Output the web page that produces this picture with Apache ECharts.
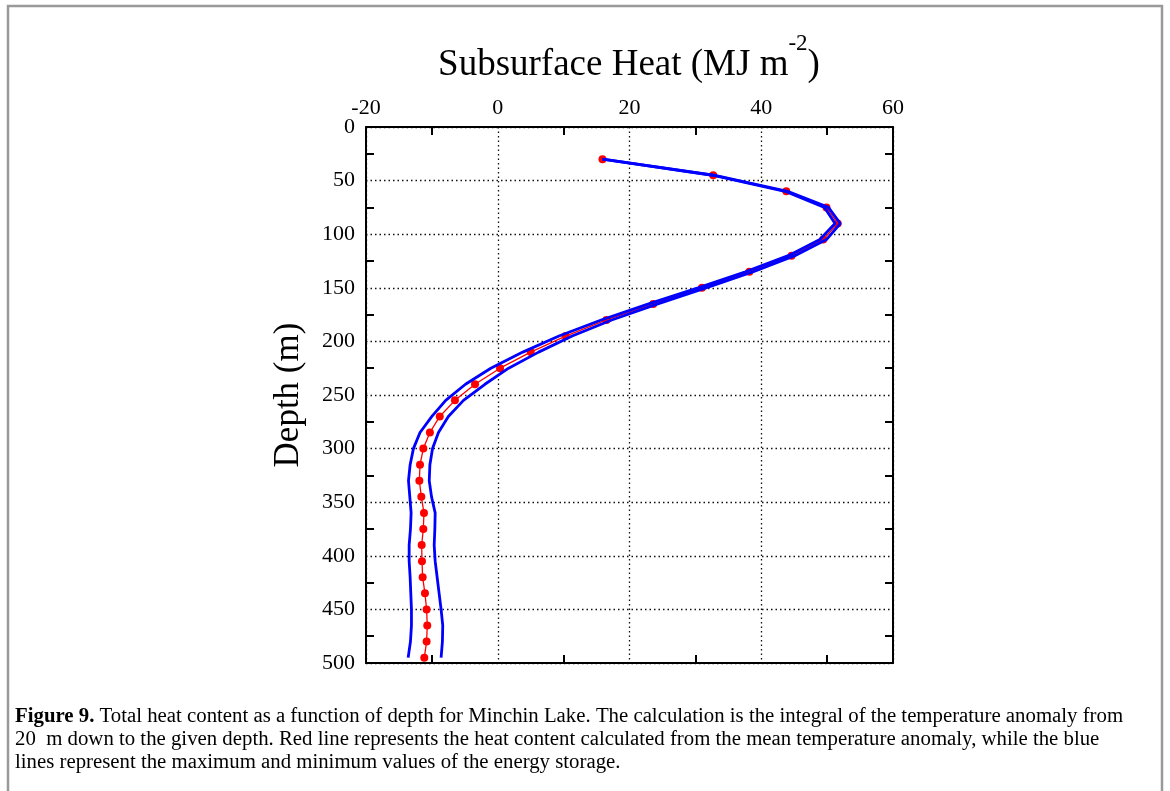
<!DOCTYPE html>
<html><head><meta charset="utf-8">
<script src="https://cdn.jsdelivr.net/npm/echarts@6/dist/echarts.min.js"></script>
<style>html,body{margin:0;padding:0;background:#fff}#c{width:1170px;height:791px}</style>
</head><body><div id="c"></div>
<script>
// Depth (m) of each sample
const depths = [30,45,60,75,90,105,120,135,150,165,180,195,210,225,240,255,270,285,300,315,330,345,360,375,390,405,420,435,450,465,480,495];
// Heat content from the mean temperature anomaly (MJ m^-2)
const meanHeat = [15.9,32.7,43.8,49.9,51.6,49.4,44.6,38.2,31.0,23.6,16.5,10.3,5.0,0.35,-3.45,-6.5,-8.8,-10.3,-11.3,-11.8,-11.9,-11.6,-11.2,-11.3,-11.55,-11.5,-11.4,-11.05,-10.8,-10.7,-10.8,-11.15];
// Minimum and maximum energy storage
const minHeat = [15.9,32.6,43.6,49.6,51.2,48.9,44.1,37.6,30.4,22.9,15.7,9.3,3.8,-1.05,-4.9,-7.9,-10.0,-11.8,-12.8,-13.3,-13.55,-13.35,-13.15,-13.25,-13.45,-13.45,-13.3,-13.2,-13.1,-13.1,-13.25,-13.6];
const maxHeat = [15.9,32.8,44.0,50.2,52.0,49.9,45.1,38.8,31.6,24.3,17.3,11.3,6.2,1.65,-1.95,-5.2,-7.5,-9.0,-9.9,-10.3,-10.4,-10.05,-9.5,-9.55,-9.65,-9.5,-9.2,-8.9,-8.6,-8.35,-8.4,-8.6];
// Axis ranges / ticks
const xRange = [-20, 60], xStep = 20;
const yRange = [0, 500], yStep = 50;
const titleText = 'Subsurface Heat (MJ m';
const titleSup = '-2';
const yTitle = 'Depth (m)';
const captionBold = 'Figure 9.';
const captionLines = [
  ' Total heat content as a function of depth for Minchin Lake. The calculation is the integral of the temperature anomaly from',
  '20  m down to the given depth. Red line represents the heat content calculated from the mean temperature anomaly, while the blue',
  'lines represent the maximum and minimum values of the energy storage.'
];

const pair = (xs) => xs.map((v, i) => [v, depths[i]]);
const serif = 'Liberation Serif';
const frameLine = { show: true, onZero: false, lineStyle: { color: '#000', width: 2 } };
const minor = { show: true, splitNumber: 2, length: 8, lineStyle: { color: '#000', width: 2 } };
const dotted = { show: true, lineStyle: { color: '#111', width: 1.3, type: [1.5, 3] } };

const chart = echarts.init(document.getElementById('c'), null, { renderer: 'canvas' });
chart.setOption({
  animation: false,
  backgroundColor: '#fff',
  grid: { left: 366, top: 127, width: 527, height: 536, containLabel: false },
  xAxis: [
    { type: 'value', position: 'top', min: xRange[0], max: xRange[1], interval: xStep,
      axisLine: frameLine, axisTick: { show: false, inside: true }, minorTick: minor,
      axisLabel: { show: true, margin: 8, color: '#000', fontFamily: serif, fontSize: 22 },
      splitLine: dotted },
    { type: 'value', position: 'bottom', min: xRange[0], max: xRange[1], interval: xStep,
      axisLine: frameLine, axisTick: { show: false, inside: true }, minorTick: minor,
      axisLabel: { show: false }, splitLine: { show: false } }
  ],
  yAxis: [
    { type: 'value', position: 'left', inverse: true, min: yRange[0], max: yRange[1], interval: yStep,
      axisLine: frameLine, axisTick: { show: false, inside: true }, minorTick: minor,
      axisLabel: { show: true, margin: 11, color: '#000', fontFamily: serif, fontSize: 22 },
      splitLine: dotted,
      name: yTitle, nameLocation: 'middle', nameGap: 60, nameRotate: 90,
      nameTextStyle: { color: '#000', fontFamily: serif, fontSize: 35 } },
    { type: 'value', position: 'right', inverse: true, min: yRange[0], max: yRange[1], interval: yStep,
      axisLine: frameLine, axisTick: { show: false, inside: true }, minorTick: minor,
      axisLabel: { show: false }, splitLine: { show: false } }
  ],
  series: [
    { type: 'line', name: 'mean', xAxisIndex: 0, yAxisIndex: 0, data: pair(meanHeat),
      symbol: 'circle', symbolSize: 8, showSymbol: true, z: 3,
      itemStyle: { color: '#ff0000' }, lineStyle: { color: '#ff0000', width: 1.3 } },
    { type: 'line', name: 'min', xAxisIndex: 0, yAxisIndex: 0, data: pair(minHeat),
      showSymbol: false, symbol: 'none', z: 4, lineStyle: { color: '#0000ff', width: 2.8 } },
    { type: 'line', name: 'max', xAxisIndex: 0, yAxisIndex: 0, data: pair(maxHeat),
      showSymbol: false, symbol: 'none', z: 4, lineStyle: { color: '#0000ff', width: 2.8 } }
  ],
  graphic: [
    { type: 'polyline', silent: true, z: 100,
      shape: { points: [[8, 800], [8, 6], [1162, 6], [1162, 800]] },
      style: { stroke: '#999', lineWidth: 2.5, fill: null } },
    { type: 'text', z: 100, x: 629, y: 58,
      style: { text: '{a|' + titleText + '}{s|' + titleSup + '}{a|)}', align: 'center', verticalAlign: 'middle',
        rich: {
          a: { fontFamily: serif, fontSize: 37, fill: '#000', lineHeight: 52, verticalAlign: 'bottom' },
          s: { fontFamily: serif, fontSize: 23, fill: '#000', verticalAlign: 'top', lineHeight: 24 }
        } } },
    { type: 'text', z: 100, x: 15, y: 705,
      style: { text: '{b|' + captionBold + '}{n|' + captionLines[0] + '}\n{n|' + captionLines[1] + '}\n{n|' + captionLines[2] + '}',
        align: 'left', verticalAlign: 'top',
        rich: {
          b: { fontFamily: serif, fontWeight: 'bold', fontSize: 20.8, fill: '#000', lineHeight: 23 },
          n: { fontFamily: serif, fontSize: 20.8, fill: '#000', lineHeight: 23 }
        } } }
  ]
});
</script></body></html>
